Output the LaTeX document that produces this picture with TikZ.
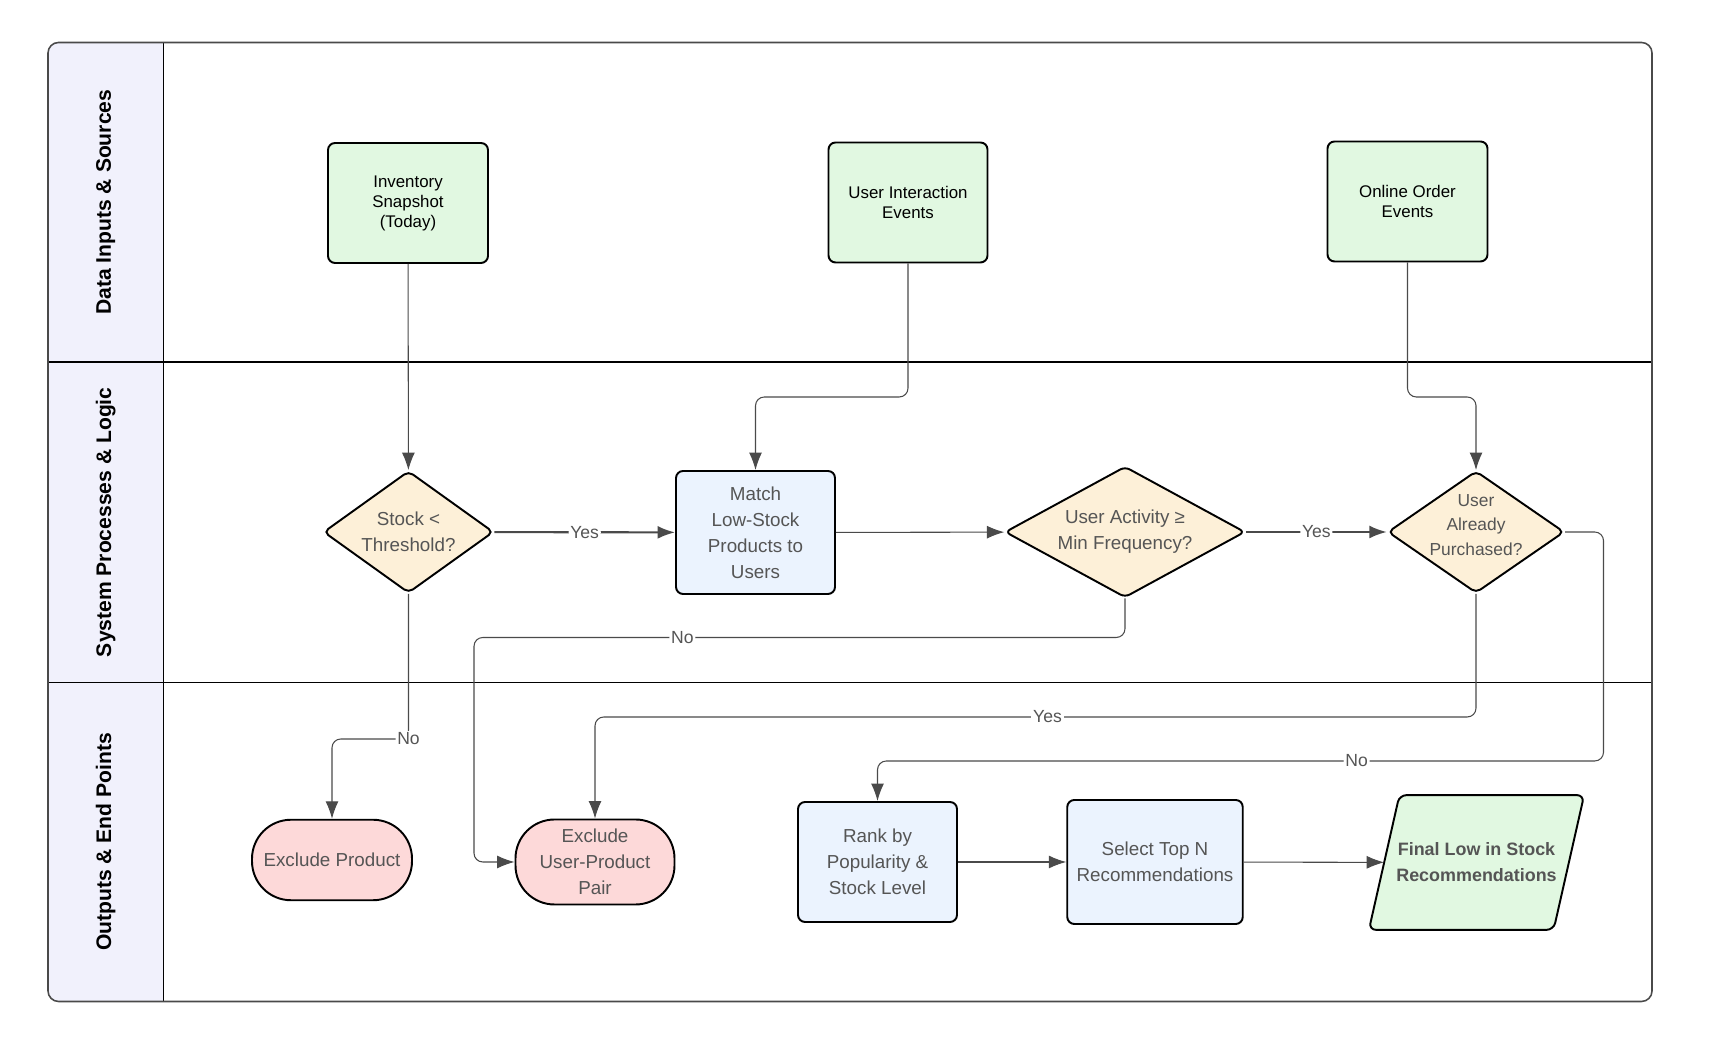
\documentclass[tikz,border=0pt]{standalone}
\usepackage{fontspec}
\setmainfont{Liberation Sans}
\usetikzlibrary{shapes.geometric,arrows.meta,backgrounds}

\definecolor{verdecaja}{HTML}{E1F8E1}
\definecolor{azulcaja}{HTML}{EBF3FE}
\definecolor{amarillo}{HTML}{FDF0D8}
\definecolor{rosa}{HTML}{FDD9D9}
\definecolor{carril}{HTML}{F1F1FC}
\definecolor{textogris}{HTML}{555555}
\definecolor{linea}{HTML}{4A4A4A}

\begin{document}
\begin{tikzpicture}[
    source/.style={draw, line width=1.1pt, rounded corners=4pt, fill=verdecaja, minimum width=3.2cm, minimum height=2.4cm, align=center, font=\fontsize{9.6}{11.4}\selectfont},
    process/.style={draw, line width=1.1pt, rounded corners=4pt, fill=azulcaja, minimum width=3.18cm, minimum height=2.4cm, align=center, text=textogris, font=\fontsize{10.7}{14.8}\selectfont},
    decision/.style={diamond, draw, line width=1.1pt, rounded corners=3pt, fill=amarillo, inner sep=-8pt, align=center, text=textogris, font=\fontsize{10.7}{14.8}\selectfont},
    terminal/.style={draw, line width=1.1pt, rounded corners=0.78cm, fill=rosa, minimum width=3.2cm, align=center, text=textogris, font=\fontsize{10.7}{14.8}\selectfont},
    output/.style={minimum width=3.68cm, minimum height=2.68cm, align=center, text=textogris, font=\bfseries\fontsize{10.2}{14.8}\selectfont},
    flow/.style={draw=linea, line width=0.6pt, rounded corners=5pt, -{Latex[length=3.5mm,width=2.6mm]}},
    flowbold/.style={flow, line width=1.2pt},
    lbl/.style={fill=white, inner sep=1pt, text=textogris, font=\fontsize{10}{12}\selectfont},
    lanename/.style={rotate=90, font=\bfseries\fontsize{12}{14}\selectfont}
]
    \useasboundingbox (0,0) rectangle (34.18,21.14);

    % Carriles
    \fill[carril, rounded corners=6pt] (3.27,20.29) -- (0.96,20.29) -- (0.96,1.11) -- (3.27,1.11);
    \draw[line width=0.9pt] (3.27,1.11) -- (3.27,20.29);
    \draw[line width=0.9pt] (0.96,13.90) -- (33.04,13.90);
    \draw[line width=0.9pt] (0.96,7.49) -- (33.04,7.49);
    \draw[draw=linea, line width=0.9pt, rounded corners=6pt] (0.96,1.11) rectangle (33.04,20.29);

    \node[lanename] (lane1) at (2.115,17.095) {Data Inputs \& Sources};
    \node[lanename] (lane2) at (2.115,10.695) {System Processes \& Logic};
    \node[lanename] (lane3) at (2.115,4.30) {Outputs \& End Points};

    % Fuentes de datos
    \node[source] (inv) at (8.16,17.08) {Inventory\\Snapshot\\(Today)};
    \node[source, minimum width=3.18cm] (uie) at (18.16,17.09) {User Interaction\\Events};
    \node[source] (ooe) at (28.15,17.11) {Online Order\\Events};

    % Procesos y decisiones
    \node[decision, minimum width=3.4cm, minimum height=2.44cm] (stock) at (8.17,10.50) {Stock <\\Threshold?};
    \node[process, minimum height=2.46cm] (match) at (15.11,10.49) {Match\\Low-Stock\\Products to\\Users};
    \node[decision, minimum width=4.8cm, minimum height=2.62cm] (act) at (22.50,10.50) {User Activity ≥\\Min Frequency?};
    \node[decision, minimum width=3.53cm, minimum height=2.44cm, font=\fontsize{9.9}{14}\selectfont] (purch) at (29.52,10.50) {User\\Already\\Purchased?\\[-6pt]};

    % Salidas
    \node[terminal, minimum height=1.61cm] (exprod) at (6.64,3.94) {Exclude Product};
    \node[terminal, minimum width=3.18cm, minimum height=1.7cm] (expair) at (11.90,3.90) {Exclude\\User-Product\\Pair};
    \node[process] (rank) at (17.55,3.90) {Rank by\\Popularity \&\\Stock Level};
    \node[process, minimum width=3.51cm, minimum height=2.48cm] (topn) at (23.10,3.90) {Select Top N\\Recommendations};
    \node[output] (final) at (29.53,3.89) {Final Low in Stock\\Recommendations};
    \begin{scope}[on background layer]
        \draw[fill=verdecaja, line width=1.1pt, rounded corners=4pt]
            ([xshift=-0.305cm]final.south west) -- ([xshift=-0.305cm]final.south east)
            -- ([xshift=0.305cm]final.north east) -- ([xshift=0.305cm]final.north west) -- cycle;
    \end{scope}

    % Conexiones
    \draw[flow] (inv) -- (stock);
    \draw[flow] (uie.south) |- (match.north |- 0,13.20) -- (match.north);
    \draw[flow] (ooe.south) |- (purch.north |- 0,13.20) -- (purch.north);
    \draw[flowbold] (stock) -- node[lbl] {Yes} (match);
    \draw[flow] (match) -- (act);
    \draw[flowbold] (act) -- node[lbl] {Yes} (purch);
    \draw[flow] (stock.south) |- node[lbl] {No} (exprod.north |- 0,6.36) -- (exprod.north);
    \draw[flow] (act.south) |- node[lbl, pos=0.84] {No} (9.48,8.39) |- (expair.west);
    \draw[flow] (purch.south) |- (expair.north |- 0,6.80) -- (expair.north);
    \node[lbl] (yes3) at (20.95,6.80) {Yes};
    \draw[flow] (purch.east) -| (32.07,5.92) -- node[lbl, pos=0.34] {No} (rank.north |- 0,5.92) -- (rank.north);
    \draw[flow] (rank) -- (topn);
    \draw[flow] (topn) -- (final);
\end{tikzpicture}
\end{document}
